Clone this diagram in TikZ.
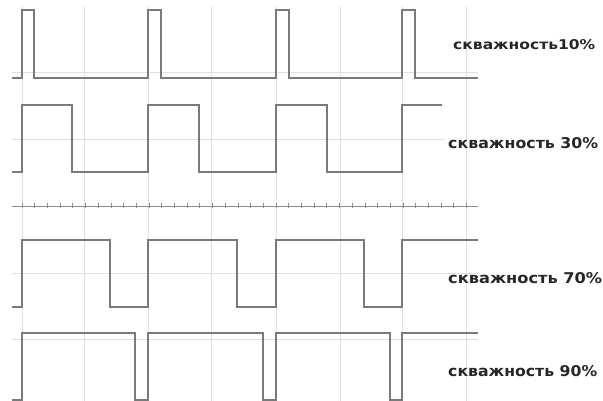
\documentclass[tikz,border=0pt]{standalone}
\usepackage{fontspec}
\setmainfont{DejaVu Sans}
\usepackage{graphicx}
\begin{document}
\begin{tikzpicture}[x=1pt,y=-1pt,
  gridline/.style={draw=black!12,line width=0.9pt},
  wave/.style={draw=black!52,line width=1.15pt,line join=miter},
  axisline/.style={draw=black!45,line width=0.9pt},
  tickmark/.style={draw=black!45,line width=0.8pt},
  lbl/.style={anchor=west,inner sep=0pt,text=black!85,font=\bfseries}]
\useasboundingbox (0,0) rectangle (603,401);
% grid
\foreach \x in {22,84,148,211,276,340,402,466} \draw[gridline] (\x,6) -- (\x,401);
\foreach \y in {72,273,339} \draw[gridline] (12,\y) -- (478,\y);
\draw[gridline] (12,139) -- (445,139);
% dotted axis
\draw[axisline] (12,206) -- (478,206);
\foreach \x in {22,34.7,...,478} \draw[tickmark] (\x,203.5) -- (\x,208.5);
% waveforms
\draw[wave] (12,78) -- (22,78) -- (22,10) -- (34,10) -- (34,78) -- (148,78) -- (148,10) -- (161,10) -- (161,78) -- (276,78) -- (276,10) -- (289,10) -- (289,78) -- (402,78) -- (402,10) -- (415,10) -- (415,78) -- (478,78);
\draw[wave] (12,172) -- (22,172) -- (22,105) -- (72,105) -- (72,172) -- (148,172) -- (148,105) -- (199,105) -- (199,172) -- (276,172) -- (276,105) -- (327,105) -- (327,172) -- (402,172) -- (402,105) -- (442,105);
\draw[wave] (12,307) -- (22,307) -- (22,240) -- (110,240) -- (110,307) -- (148,307) -- (148,240) -- (237,240) -- (237,307) -- (276,307) -- (276,240) -- (364,240) -- (364,307) -- (402,307) -- (402,240) -- (478,240);
\draw[wave] (12,400) -- (22,400) -- (22,333) -- (135,333) -- (135,400) -- (148,400) -- (148,333) -- (263,333) -- (263,400) -- (276,400) -- (276,333) -- (390,333) -- (390,400) -- (402,400) -- (402,333) -- (478,333);
% labels
\node[lbl] (l10) at (453,45) {\resizebox{142pt}{10pt}{скважность10\%}};
\node[lbl] (l30) at (448,143.5) {\resizebox{150pt}{11pt}{скважность 30\%}};
\node[lbl] (l70) at (448,278.5) {\resizebox{154pt}{11pt}{скважность 70\%}};
\node[lbl] (l90) at (448,371) {\resizebox{149pt}{11pt}{скважность 90\%}};
\end{tikzpicture}
\end{document}
